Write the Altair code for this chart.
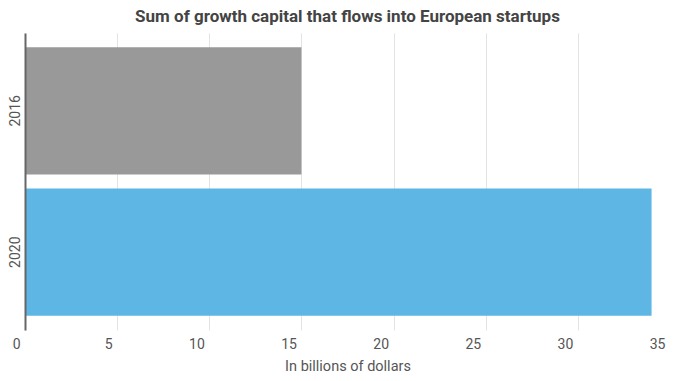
import altair as alt
import pandas as pd

years = ["2016", "2020"]
values = [15.0, 34.0]
bar_colors = ["#999999", "#5EB6E4"]
x_ticks = [0, 5, 10, 15, 20, 25, 30, 35]

df = pd.DataFrame({"year": years, "value": values, "color": bar_colors})

chart = (
    alt.Chart(df)
    .mark_bar()
    .encode(
        y=alt.Y(
            "year:N",
            sort=years,
            scale=alt.Scale(paddingInner=0.1, paddingOuter=0.1),
            axis=alt.Axis(
                title=None,
                labelAngle=270,
                labelAlign="center",
                labelBaseline="alphabetic",
                labelPadding=6,
                labelFont="Roboto",
                labelFontSize=14,
                labelColor="#555555",
                ticks=False,
                tickSize=0,
                grid=False,
                domain=True,
                domainColor="#666666",
                domainWidth=2,
                zindex=1,
            ),
        ),
        x=alt.X(
            "value:Q",
            scale=alt.Scale(domain=[0, 35], nice=False),
            axis=alt.Axis(
                values=x_ticks,
                title="In billions of dollars",
                titleFont="Roboto",
                titleFontSize=14.5,
                titleFontWeight="normal",
                titleColor="#555555",
                titlePadding=8,
                labelFont="Roboto",
                labelFontSize=14,
                labelColor="#555555",
                labelAlign="right",
                labelOffset=-5,
                labelPadding=7,
                ticks=False,
                tickSize=0,
                domain=False,
                grid=True,
                gridColor="#e3e3e3",
                gridWidth=1,
            ),
        ),
        color=alt.Color("color:N", scale=None, legend=None),
    )
    .properties(
        width=645,
        height=297,
        title=alt.TitleParams(
            "Sum of growth capital that flows into European startups",
            font="Roboto",
            fontSize=17,
            fontWeight="bold",
            color="#444444",
            anchor="middle",
            offset=7,
        ),
        autosize=alt.AutoSizeParams(type="none"),
        padding={"left": 17, "top": 25, "right": 0, "bottom": 43},
    )
    .configure_view(stroke=None)
)

chart.save("out.html", embed_options={"renderer": "svg", "actions": False})
